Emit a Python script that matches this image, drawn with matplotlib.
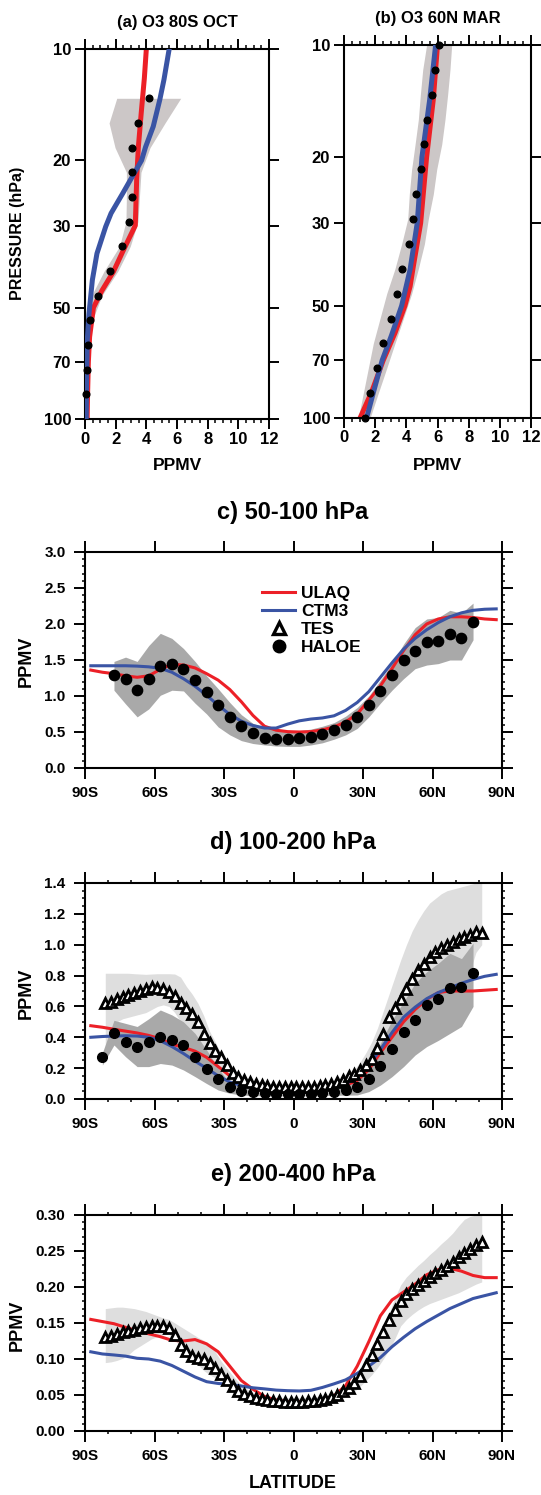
import numpy as np
import matplotlib
matplotlib.use('Agg')
import matplotlib.pyplot as plt
from matplotlib.ticker import MultipleLocator, NullLocator, FixedLocator, FixedFormatter
from matplotlib.lines import Line2D

plt.rcParams['font.family'] = ['Liberation Sans', 'DejaVu Sans']
plt.rcParams['font.weight'] = 'bold'

### Vertical profiles (panels a, b), pressure in hPa, ozone in ppmv

p_obs = [10.0, 11.66, 13.59, 15.85, 18.48, 21.54, 25.12, 29.29,
         34.15, 39.81, 46.42, 54.12, 63.10, 73.56, 85.77, 100.0]

# (a) 80S OCT
p_obs_a = p_obs[2:15]
haloe_a = [4.17, 3.43, 3.09, 3.09, 3.05, 2.88, 2.43, 1.66, 0.83, 0.35, 0.17, 0.11, 0.04]
range_a_lo = [2.07, 1.57, 1.96, 2.70, 2.70, 2.67, 2.25, 1.25, 0.42, 0.12, 0.03, 0.0, 0.0]
range_a_hi = [6.24, 5.22, 4.24, 3.65, 3.55, 3.45, 2.95, 2.15, 1.10, 0.48, 0.25, 0.15, 0.10]
p_ulaq_a = [10, 12, 15, 18.4, 22.5, 30, 35, 40, 45, 50, 60, 70, 85, 100]
ulaq_a = [4.0, 3.87, 3.66, 3.48, 3.37, 3.28, 2.5, 1.85, 1.1, 0.55, 0.30, 0.22, 0.17, 0.14]
p_ctm3_a = [10, 12.1, 13.7, 16.2, 18.4, 20, 21.7, 24.6, 27.8, 30.2, 35.7, 42.1, 51.9, 61, 80, 100]
ctm3_a = [5.49, 5.15, 4.88, 4.45, 3.95, 3.69, 3.2, 2.45, 1.7, 1.35, 0.78, 0.48, 0.26, 0.15, 0.10, 0.08]

# (b) 60N MAR
haloe_b = [6.12, 5.82, 5.63, 5.35, 5.13, 4.94, 4.62, 4.41,
           4.15, 3.72, 3.40, 2.99, 2.48, 2.10, 1.69, 1.37]
range_b_lo = [5.30, 5.05, 4.90, 4.77, 4.56, 4.34, 4.19, 4.09,
              3.70, 3.27, 2.74, 2.31, 1.88, 1.56, 1.24, 0.92]
range_b_hi = [6.91, 6.80, 6.65, 6.48, 6.27, 5.95, 5.73, 5.41,
              5.16, 4.77, 4.34, 3.81, 3.27, 2.74, 2.20, 1.67]
p_ulaq_b = [10, 14, 20, 30, 39.2, 44.4, 50, 59.2, 70, 85, 100]
ulaq_b = [6.0, 5.73, 5.3, 4.92, 4.45, 4.24, 3.91, 3.27, 2.52, 1.78, 1.03]
p_ctm3_b = [10, 14, 20, 30, 40, 50, 60, 70, 85, 100]
ctm3_b = [5.88, 5.5, 5.0, 4.7, 4.24, 3.7, 3.05, 2.45, 1.9, 1.45]

### Zonal means (panels c, d, e)

lat_model = np.arange(-87.5, 88, 5.0)
lat_haloe_c = np.arange(-77.5, 78, 5.0)
lat_haloe_d = np.arange(-82.5, 78, 5.0)
lat_tes = np.arange(-81.25, 82, 2.5)

lat_ticks = [-90, -60, -30, 0, 30, 60, 90]
lat_labels = ['90S', '60S', '30S', '0', '30N', '60N', '90N']

# c) 50-100 hPa
ulaq_c = [1.36, 1.33, 1.31, 1.28, 1.26, 1.28, 1.37, 1.44, 1.43, 1.39,
          1.31, 1.22, 1.09, 0.92, 0.73, 0.58, 0.525, 0.505, 0.50, 0.505,
          0.53, 0.57, 0.64, 0.75, 0.94, 1.14, 1.38, 1.63, 1.85, 2.00,
          2.07, 2.10, 2.10, 2.09, 2.07, 2.06]
ctm3_c = [1.42, 1.42, 1.42, 1.42, 1.415, 1.405, 1.385, 1.33, 1.24, 1.135,
          1.01, 0.87, 0.745, 0.65, 0.59, 0.555, 0.555, 0.61, 0.655, 0.68,
          0.695, 0.725, 0.80, 0.91, 1.06, 1.26, 1.46, 1.65, 1.80, 1.92,
          2.02, 2.10, 2.155, 2.19, 2.205, 2.21]
haloe_c = [1.29, 1.23, 1.08, 1.23, 1.42, 1.44, 1.38, 1.22, 1.05, 0.88,
           0.71, 0.58, 0.48, 0.42, 0.40, 0.40, 0.41, 0.43, 0.47, 0.53,
           0.60, 0.71, 0.875, 1.07, 1.29, 1.50, 1.625, 1.745, 1.77, 1.86,
           1.81, 2.03]
haloe_c_hi = [1.48, 1.54, 1.48, 1.70, 1.87, 1.80, 1.66, 1.48, 1.28, 1.10,
              0.91, 0.74, 0.62, 0.56, 0.53, 0.52, 0.52, 0.54, 0.58, 0.63,
              0.72, 0.84, 1.00, 1.22, 1.45, 1.72, 1.95, 2.07, 2.09, 2.19,
              2.15, 2.29]
haloe_c_lo = [1.08, 0.89, 0.71, 0.82, 1.01, 1.08, 1.07, 0.90, 0.75, 0.57,
              0.46, 0.38, 0.34, 0.32, 0.305, 0.30, 0.30, 0.32, 0.35, 0.40,
              0.46, 0.55, 0.71, 0.90, 1.08, 1.24, 1.38, 1.43, 1.45, 1.50,
              1.50, 1.78]

# d) 100-200 hPa
ulaq_d = [0.475, 0.465, 0.452, 0.44, 0.428, 0.412, 0.39, 0.355, 0.335, 0.31,
          0.27, 0.21, 0.15, 0.11, 0.09, 0.078, 0.073, 0.071, 0.07, 0.07,
          0.071, 0.077, 0.088, 0.12, 0.19, 0.30, 0.40, 0.50, 0.58, 0.645,
          0.69, 0.70, 0.70, 0.70, 0.705, 0.71]
ctm3_d = [0.40, 0.405, 0.408, 0.41, 0.408, 0.40, 0.378, 0.34, 0.295, 0.245,
          0.199, 0.15, 0.11, 0.087, 0.076, 0.072, 0.07, 0.07, 0.07, 0.072,
          0.075, 0.08, 0.097, 0.14, 0.22, 0.32, 0.43, 0.53, 0.595, 0.65,
          0.69, 0.72, 0.75, 0.775, 0.795, 0.808]
haloe_d = [0.27, 0.43, 0.37, 0.34, 0.37, 0.40, 0.385, 0.35, 0.27, 0.195,
           0.13, 0.08, 0.054, 0.043, 0.037, 0.032, 0.032, 0.032, 0.035, 0.039,
           0.045, 0.058, 0.08, 0.13, 0.216, 0.326, 0.434, 0.51, 0.607, 0.648,
           0.717, 0.726, 0.814]
haloe_d_hi = [0.30, 0.51, 0.49, 0.47, 0.52, 0.577, 0.545, 0.50, 0.425, 0.318,
              0.20, 0.10, 0.08, 0.075, 0.072, 0.07, 0.07, 0.07, 0.07, 0.072,
              0.075, 0.08, 0.123, 0.23, 0.36, 0.51, 0.63, 0.75, 0.825, 0.88,
              0.944, 0.91, 1.01]
haloe_d_lo = [0.22, 0.35, 0.274, 0.21, 0.21, 0.23, 0.22, 0.188, 0.145, 0.10,
              0.058, 0.037, 0.026, 0.022, 0.02, 0.02, 0.02, 0.02, 0.02, 0.022,
              0.024, 0.025, 0.026, 0.048, 0.09, 0.145, 0.21, 0.285, 0.34, 0.38,
              0.425, 0.47, 0.60]
tes_d = [0.624, 0.630, 0.645, 0.660, 0.675, 0.690, 0.700, 0.715, 0.725, 0.720,
         0.710, 0.695, 0.670, 0.625, 0.590, 0.550, 0.500, 0.420, 0.360, 0.310,
         0.270, 0.220, 0.170, 0.145, 0.125, 0.112, 0.100, 0.092, 0.085, 0.080,
         0.077, 0.076, 0.076, 0.076, 0.076, 0.077, 0.080, 0.085, 0.090, 0.098,
         0.110, 0.125, 0.149, 0.165, 0.185, 0.220, 0.260, 0.330, 0.420, 0.530,
         0.590, 0.645, 0.710, 0.780, 0.835, 0.875, 0.920, 0.955, 0.980, 1.000,
         1.020, 1.040, 1.050, 1.065, 1.080, 1.075]
tes_d_hi = [0.815, 0.815, 0.815, 0.815, 0.815, 0.812, 0.810, 0.808, 0.810, 0.812,
            0.812, 0.812, 0.810, 0.790, 0.730, 0.680, 0.620, 0.540, 0.440, 0.370,
            0.290, 0.240, 0.190, 0.155, 0.130, 0.120, 0.112, 0.106, 0.103, 0.100,
            0.100, 0.100, 0.100, 0.100, 0.100, 0.100, 0.100, 0.102, 0.104, 0.106,
            0.110, 0.120, 0.150, 0.190, 0.240, 0.300, 0.370, 0.460, 0.570, 0.680,
            0.790, 0.900, 1.000, 1.090, 1.160, 1.220, 1.270, 1.300, 1.330, 1.350,
            1.360, 1.370, 1.380, 1.390, 1.400, 1.400]
tes_d_lo = [0.230, 0.400, 0.500, 0.520, 0.530, 0.540, 0.550, 0.560, 0.580, 0.600,
            0.610, 0.600, 0.560, 0.500, 0.440, 0.380, 0.320, 0.260, 0.200, 0.160,
            0.120, 0.090, 0.070, 0.060, 0.055, 0.052, 0.050, 0.050, 0.050, 0.050,
            0.050, 0.050, 0.050, 0.050, 0.050, 0.050, 0.050, 0.050, 0.050, 0.050,
            0.052, 0.055, 0.060, 0.070, 0.085, 0.110, 0.140, 0.180, 0.230, 0.290,
            0.350, 0.410, 0.470, 0.530, 0.580, 0.630, 0.670, 0.710, 0.740, 0.770,
            0.790, 0.810, 0.820, 0.830, 0.950, 1.000]

# e) 200-400 hPa
ulaq_e = [0.155, 0.152, 0.149, 0.144, 0.139, 0.135, 0.131, 0.126, 0.125, 0.127,
          0.121, 0.11, 0.09, 0.07, 0.058, 0.048, 0.043, 0.041, 0.041, 0.041,
          0.042, 0.049, 0.063, 0.09, 0.124, 0.16, 0.182, 0.193, 0.204, 0.217,
          0.224, 0.226, 0.222, 0.216, 0.213, 0.213]
ctm3_e = [0.11, 0.107, 0.1056, 0.104, 0.101, 0.10, 0.097, 0.091, 0.083, 0.075,
          0.0685, 0.066, 0.0648, 0.0625, 0.060, 0.0585, 0.0568, 0.056, 0.0556, 0.0565,
          0.0605, 0.0655, 0.071, 0.08, 0.09, 0.102, 0.117, 0.13, 0.142, 0.152,
          0.161, 0.17, 0.177, 0.184, 0.188, 0.192]
tes_e = [0.131, 0.1325, 0.1345, 0.137, 0.1385, 0.140, 0.1426, 0.1445, 0.146, 0.1465,
         0.146, 0.143, 0.133, 0.120, 0.111, 0.104, 0.1015, 0.1005, 0.095, 0.087,
         0.079, 0.071, 0.0625, 0.056, 0.0515, 0.048, 0.046, 0.0445, 0.043, 0.042,
         0.041, 0.0405, 0.040, 0.040, 0.0405, 0.041, 0.042, 0.043, 0.045, 0.047,
         0.0505, 0.055, 0.060, 0.067, 0.077, 0.091, 0.106, 0.121, 0.137, 0.154,
         0.168, 0.180, 0.190, 0.197, 0.203, 0.209, 0.214, 0.219, 0.224, 0.229,
         0.235, 0.241, 0.247, 0.253, 0.259, 0.263]
tes_e_hi = [0.170, 0.171, 0.172, 0.172, 0.171, 0.170, 0.168, 0.166, 0.163, 0.160,
            0.157, 0.155, 0.150, 0.145, 0.140, 0.135, 0.130, 0.126, 0.120, 0.110,
            0.097, 0.087, 0.077, 0.068, 0.061, 0.055, 0.051, 0.049, 0.048, 0.047,
            0.046, 0.046, 0.046, 0.046, 0.046, 0.046, 0.047, 0.048, 0.049, 0.051,
            0.054, 0.059, 0.065, 0.074, 0.085, 0.099, 0.113, 0.128, 0.145, 0.163,
            0.185, 0.203, 0.214, 0.222, 0.230, 0.237, 0.245, 0.252, 0.260, 0.267,
            0.275, 0.285, 0.294, 0.298, 0.300, 0.300]
tes_e_lo = [0.095, 0.096, 0.098, 0.101, 0.106, 0.113, 0.118, 0.123, 0.128, 0.131,
            0.134, 0.134, 0.127, 0.116, 0.108, 0.100, 0.092, 0.084, 0.078, 0.074,
            0.070, 0.065, 0.059, 0.053, 0.047, 0.043, 0.041, 0.039, 0.038, 0.037,
            0.036, 0.036, 0.036, 0.036, 0.036, 0.036, 0.036, 0.037, 0.038, 0.040,
            0.042, 0.046, 0.049, 0.055, 0.062, 0.070, 0.078, 0.088, 0.100, 0.113,
            0.128, 0.146, 0.155, 0.162, 0.168, 0.173, 0.177, 0.180, 0.183, 0.186,
            0.189, 0.192, 0.196, 0.200, 0.204, 0.207]

### Styles

RED = '#ec2027'
BLUE = '#3a54a4'
DARK = '#a9a9a9'
LIGHT = '#dedede'
PROF = '#ccc7c7'

W, H = 541.0, 1495.0
fig = plt.figure(figsize=(W / 100, H / 100), dpi=100)


def axes_px(x0, y0, x1, y1):
    ''' axes from pixel box (left, top, right, bottom) '''
    return fig.add_axes([x0 / W, 1 - y1 / H, (x1 - x0) / W, (y1 - y0) / H])


def text_px(x, y, s, size, rot=0):
    fig.text(x / W, 1 - y / H, s, ha='center', va='center',
             fontsize=size, fontweight='bold', rotation=rot)


def style_axes(ax, labelsize, xpad, ypad, major_len, minor_len):
    for s in ax.spines.values():
        s.set_linewidth(1.5)
    ax.tick_params(which='both', direction='out', top=True, right=True, width=1.4)
    ax.tick_params(which='major', length=major_len, labelsize=labelsize)
    ax.tick_params(which='minor', length=minor_len, width=1.1)
    ax.tick_params(axis='x', which='major', pad=xpad)
    ax.tick_params(axis='y', which='major', pad=ypad)


def profile_panel(ax, p_o, obs, lo, hi, p_u, ulaq, p_c, ctm3):
    ax.fill_betweenx(p_o, lo, hi, color=PROF, lw=0, zorder=1)
    ax.plot(ulaq, p_u, color=RED, lw=3.6, zorder=2)
    ax.plot(ctm3, p_c, color=BLUE, lw=3.6, zorder=3)
    ax.plot(obs, p_o, 'o', color='k', ms=4.8, zorder=4, clip_on=False)
    ax.set_yscale('log')
    ax.set_ylim(100, 10)
    ax.set_xlim(0, 12)
    ax.yaxis.set_major_locator(FixedLocator([10, 20, 30, 50, 70, 100]))
    ax.yaxis.set_major_formatter(FixedFormatter(['10', '20', '30', '50', '70', '100']))
    ax.yaxis.set_minor_locator(NullLocator())
    ax.xaxis.set_major_locator(MultipleLocator(2))
    ax.xaxis.set_minor_locator(MultipleLocator(0.5))
    style_axes(ax, 12, 2, 3, 7, 3)


def zonal_axes(ax, ymax, ymajor, yminor, fmt, xminor=True):
    ax.set_xlim(-90, 90)
    ax.set_ylim(0, ymax)
    ax.set_xticks(lat_ticks)
    ax.set_xticklabels(lat_labels)
    if xminor:
        ax.xaxis.set_minor_locator(MultipleLocator(10))
    else:
        ax.xaxis.set_minor_locator(NullLocator())
    ax.yaxis.set_major_locator(MultipleLocator(ymajor))
    ax.yaxis.set_minor_locator(MultipleLocator(yminor))
    ax.yaxis.set_major_formatter(plt.FormatStrFormatter(fmt))
    style_axes(ax, 11, 5, 6, 8, 2.5)


### Panel a, b

ax_a = axes_px(85, 49, 269, 419)
profile_panel(ax_a, p_obs_a, haloe_a, range_a_lo, range_a_hi,
              p_ulaq_a, ulaq_a, p_ctm3_a, ctm3_a)
ax_b = axes_px(344, 45, 531, 418)
profile_panel(ax_b, p_obs, haloe_b, range_b_lo, range_b_hi,
              p_ulaq_b, ulaq_b, p_ctm3_b, ctm3_b)

text_px(177, 22, '(a) O3 80S OCT', 12)
text_px(438, 18, '(b) O3 60N MAR', 12)
text_px(18, 233, 'PRESSURE (hPa)', 11.5, rot=90)
text_px(177, 465, 'PPMV', 12.5)
text_px(438, 465, 'PPMV', 12.5)

### Panel c

ax_c = axes_px(85, 552, 502, 768)
ax_c.fill_between(lat_haloe_c, haloe_c_lo, haloe_c_hi, color=DARK, lw=0, zorder=1)
ax_c.plot(lat_model, ulaq_c, color=RED, lw=2.2, zorder=2)
ax_c.plot(lat_model, ctm3_c, color=BLUE, lw=2.2, zorder=3)
ax_c.plot(lat_haloe_c, haloe_c, 'o', color='k', ms=7.4, zorder=5)
zonal_axes(ax_c, 3.0, 0.5, 0.1, '%.1f', xminor=False)

handles = [Line2D([], [], color=RED, lw=2.2),
           Line2D([], [], color=BLUE, lw=2.2),
           Line2D([], [], ls='none', marker='^', ms=8, mfc='white', mec='k', mew=2.4),
           Line2D([], [], ls='none', marker='o', ms=9, color='k')]
ax_c.legend(handles, ['ULAQ', 'CTM3', 'TES', 'HALOE'], loc='upper left',
            bbox_to_anchor=(0.4245, 0.845), frameon=False,
            handlelength=1.9, handletextpad=0.35, labelspacing=0.18,
            borderpad=0, borderaxespad=0, prop={'weight': 'bold', 'size': 12.5})

text_px(293, 512, 'c) 50-100 hPa', 17)
text_px(26, 661, 'PPMV', 13, rot=90)

### Panel d

ax_d = axes_px(85, 883, 502, 1099)
ax_d.fill_between(lat_tes, tes_d_lo, tes_d_hi, color=LIGHT, lw=0, zorder=1)
ax_d.fill_between(lat_haloe_d, haloe_d_lo, haloe_d_hi, color=DARK, lw=0, zorder=1.5)
ax_d.plot(lat_model, ulaq_d, color=RED, lw=2.2, zorder=2)
ax_d.plot(lat_model, ctm3_d, color=BLUE, lw=2.2, zorder=3)
ax_d.plot(lat_tes, tes_d, ls='none', marker='^', ms=6.5, mfc='white', mec='k', mew=2.0, zorder=4)
ax_d.plot(lat_haloe_d, haloe_d, 'o', color='k', ms=7.0, zorder=5)
zonal_axes(ax_d, 1.4, 0.2, 0.05, '%.1f')

text_px(293, 843, 'd) 100-200 hPa', 17)
text_px(26, 993, 'PPMV', 13, rot=90)

### Panel e

ax_e = axes_px(85, 1215, 502, 1431)
ax_e.fill_between(lat_tes, tes_e_lo, tes_e_hi, color=LIGHT, lw=0, zorder=1)
ax_e.plot(lat_model, ulaq_e, color=RED, lw=2.2, zorder=2)
ax_e.plot(lat_model, ctm3_e, color=BLUE, lw=2.2, zorder=3)
ax_e.plot(lat_tes, tes_e, ls='none', marker='^', ms=6.5, mfc='white', mec='k', mew=2.0, zorder=4)
zonal_axes(ax_e, 0.30, 0.05, 0.01, '%.2f')

text_px(293, 1175, 'e) 200-400 hPa', 17)
text_px(17, 1325, 'PPMV', 13, rot=90)
text_px(293, 1483, 'LATITUDE', 13)

fig.savefig('out.png', dpi=100)
